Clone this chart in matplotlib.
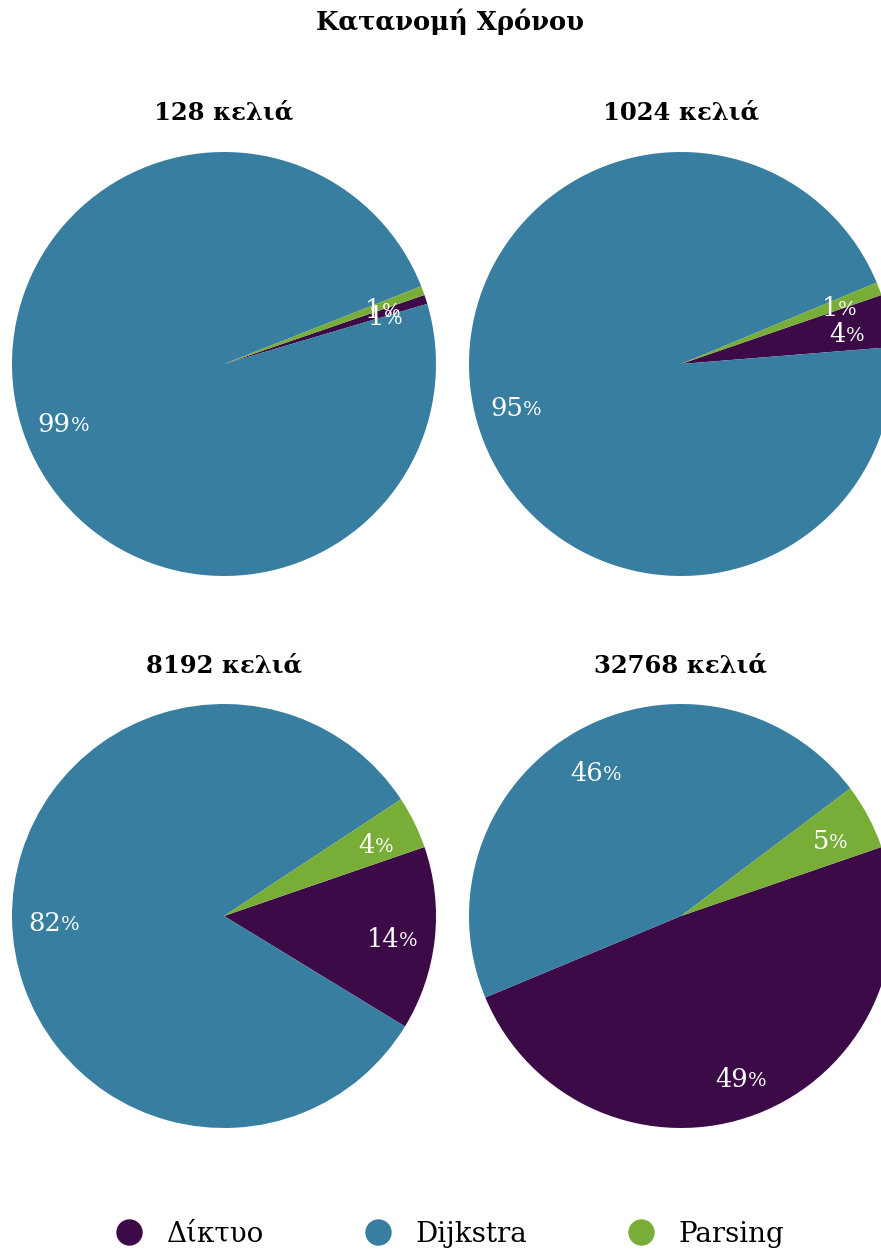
import numpy as np
import matplotlib.pyplot as plt
from matplotlib.lines import Line2D

# δεδομένα
titles = ["128 κελιά", "1024 κελιά", "8192 κελιά", "32768 κελιά"]
categories = ["Δίκτυο", "Dijkstra", "Parsing"]
diktyo = [0.7, 4, 14, 49]
dijkstra = [98.6, 95, 82, 46]
parsing = [0.7, 1, 4, 5]
colors = ["#3c0b47", "#377ea1", "#78ad38"]

W, H = 881, 1252
fig = plt.figure(figsize=(W / 100, H / 100), dpi=100)
plt.rcParams['font.family'] = ['DejaVu Serif']

R = 212
centers = [(224, 364), (681, 364), (224, 916), (681, 916)]
title_y = [112, 112, 665, 665]

fig.text(450 / W, 1 - 22 / H, "Κατανομή Χρόνου", ha='center', va='center',
         fontsize=18.5, fontweight='bold')

for i, (cx, cy) in enumerate(centers):
    ax = fig.add_axes([(cx - R) / W, (H - cy - R) / H, 2 * R / W, 2 * R / H])
    values = [diktyo[i], dijkstra[i], parsing[i]]
    wedges, _ = ax.pie(values, colors=colors, startangle=19, counterclock=False,
                       radius=1, wedgeprops={'linewidth': 0})
    ax.set_xlim(-1, 1)
    ax.set_ylim(-1, 1)
    ax.set_aspect('equal')
    ax.axis('off')

    # ετικέτες ποσοστών
    for w, v in zip(wedges, values):
        mid = np.deg2rad((w.theta1 + w.theta2) / 2)
        x, y = 0.8 * np.cos(mid), 0.8 * np.sin(mid)
        num = ax.annotate(f"{v:.0f}", (x, y), xytext=(-7, -3.5), textcoords='offset points',
                          ha='center', va='center', color='white', fontsize=18.5)
        ax.annotate("%", (1, 0.08), xycoords=num, ha='left', va='bottom',
                    color='white', fontsize=14)

    fig.text(cx / W, 1 - title_y[i] / H, titles[i], ha='center', va='center',
             fontsize=17.5, fontweight='bold')

handles = [Line2D([], [], marker='o', linestyle='', markersize=19,
                  markerfacecolor=c, markeredgewidth=0) for c in colors]
fig.legend(handles, categories, loc='center', bbox_to_anchor=(450 / W, 1 - 1234 / H),
           ncol=3, frameon=False, fontsize=20, handletextpad=0.85,
           columnspacing=3.6, handlelength=1.0)

fig.savefig("out.png", dpi=100)
